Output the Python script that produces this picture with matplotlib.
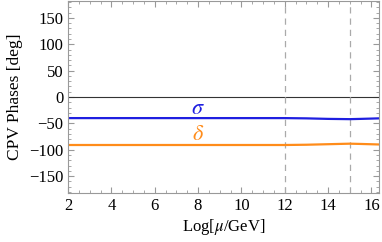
import matplotlib
matplotlib.use("Agg")
import matplotlib.pyplot as plt
from matplotlib.ticker import MultipleLocator

plt.rcParams['font.family'] = ['Liberation Serif', 'DejaVu Serif']
plt.rcParams['mathtext.fontset'] = 'stix'

log_mu = [2, 4, 6, 8, 10, 12, 13, 14, 15, 15.5, 16.35]
sigma = [-40, -40, -40, -40, -40, -40, -40.5, -41.5, -42, -41.5, -40.5]
delta = [-91, -91, -91, -91, -91, -91, -90.5, -89.5, -88.5, -89, -90]
vlines = [12, 15]

fig = plt.figure(figsize=(3.82, 2.42), dpi=100)
ax = fig.add_axes([68/382, 49/242, 311/382, 192/242])

ax.axhline(0, color='#333333', lw=0.8)
for v in vlines:
    ax.axvline(v, color='#aaaaaa', lw=0.9, ls=(0, (5, 4)))
ax.plot(log_mu, sigma, color='#1f1fe0', lw=1.6)
ax.plot(log_mu, delta, color='#ff8c1a', lw=1.6)
ax.text(8.0, -23, r'$\sigma$', color='#1f1fe0', fontsize=16, ha='center', va='center')
ax.text(8.0, -73, r'$\delta$', color='#ff8c1a', fontsize=16, ha='center', va='center')

ax.set_xlim(2, 16.35)
ax.set_ylim(-182, 182)
ax.xaxis.set_major_locator(MultipleLocator(2))
ax.xaxis.set_minor_locator(MultipleLocator(0.5))
ax.yaxis.set_major_locator(MultipleLocator(50))
ax.yaxis.set_minor_locator(MultipleLocator(10))
ax.tick_params(which='both', direction='in', top=True, right=True, color='#999999', labelsize=12)
ax.tick_params(which='major', length=4)
ax.tick_params(which='minor', length=2)
for s in ax.spines.values():
    s.set_color('#999999')
ax.set_xlabel(r'Log[$\mu$/GeV]', fontsize=12, labelpad=2)
ax.set_ylabel('CPV Phases [deg]', fontsize=12.5, labelpad=4)

fig.savefig('out.png', dpi=100)
